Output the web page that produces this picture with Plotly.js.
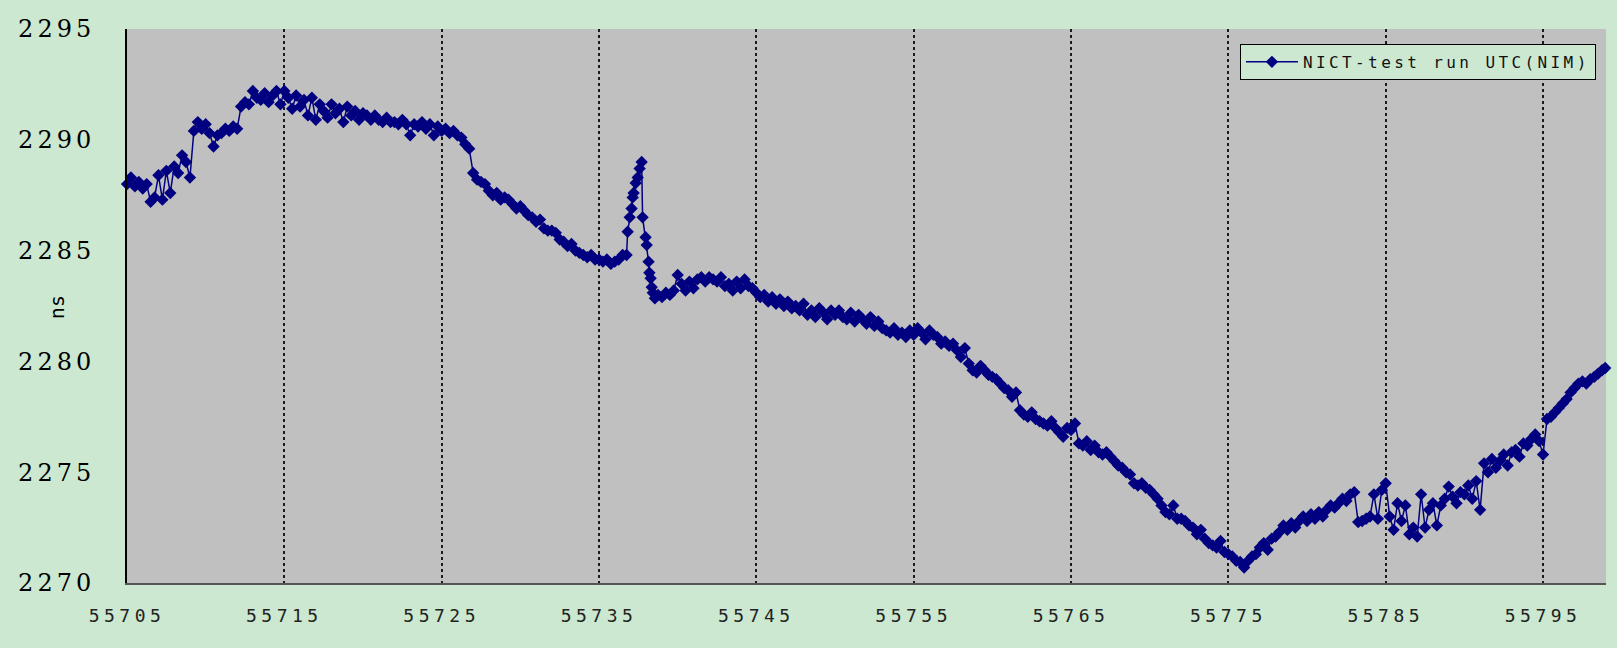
<!DOCTYPE html>
<html>
<head>
<meta charset="utf-8">
<script src="https://cdn.plot.ly/plotly-3.0.1.min.js"></script>
<style>
  html, body { margin: 0; padding: 0; background: #CCE8D0; }
  #chart { width: 1617px; height: 648px; }
  .xtick text { letter-spacing: 4.5px; }
  .ytick text { letter-spacing: 4px; }
  .legendtext { letter-spacing: 3.4px; }
</style>
</head>
<body>
<div id="chart"></div>
<script>
// ---- data ----
const seriesName = "NICT-test run UTC(NIM)";
const xTicks = [55705, 55715, 55725, 55735, 55745, 55755, 55765, 55775, 55785, 55795];
const yTicks = [2270, 2275, 2280, 2285, 2290, 2295];
const yGrid = [2275, 2280, 2285, 2290];

const mjd = [
55705,55705.25,55705.5,55705.75,
55706,55706.25,55706.5,55706.75,
55707,55707.25,55707.5,55707.75,
55708,55708.25,55708.5,55708.75,
55709,55709.25,55709.5,55709.75,
55710,55710.25,55710.5,55710.75,
55711,55711.25,55711.5,55711.75,
55712,55712.25,55712.5,55712.75,
55713,55713.25,55713.5,55713.75,
55714,55714.25,55714.5,55714.75,
55715,55715.25,55715.5,55715.75,
55716,55716.25,55716.5,55716.75,
55717,55717.25,55717.5,55717.75,
55718,55718.25,55718.5,55718.75,
55719,55719.25,55719.5,55719.75,
55720,55720.25,55720.5,55720.75,
55721,55721.25,55721.5,55721.75,
55722,55722.25,55722.5,55722.75,
55723,55723.25,55723.5,55723.75,
55724,55724.25,55724.5,55724.75,
55725,55725.25,55725.5,55725.75,
55726,55726.25,55726.5,55726.75,
55727,55727.25,55727.5,55727.75,
55728,55728.25,55728.5,55728.75,
55729,55729.25,55729.5,55729.75,
55730,55730.25,55730.5,55730.75,
55731,55731.25,55731.5,55731.75,
55732,55732.25,55732.5,55732.75,
55733,55733.25,55733.5,55733.75,
55734,55734.25,55734.5,55734.75,
55735,55735.25,55735.5,55735.75,
55736,55736.25,55736.5,
55736.75,55736.82,55736.95,55737.07,55737.14,55737.2,55737.33,55737.46,55737.58,55737.71,
55737.77,55737.96,55738.03,55738.15,55738.2,55738.28,55738.35,55738.42,55738.55,55738.75,
55739,55739.25,55739.5,55739.75,
55740,55740.25,55740.5,55740.75,
55741,55741.25,55741.5,55741.75,
55742,55742.25,55742.5,55742.75,
55743,55743.25,55743.5,55743.75,
55744,55744.25,55744.5,55744.75,
55745,55745.25,55745.5,55745.75,
55746,55746.25,55746.5,55746.75,
55747,55747.25,55747.5,55747.75,
55748,55748.25,55748.5,55748.75,
55749,55749.25,55749.5,55749.75,
55750,55750.25,55750.5,55750.75,
55751,55751.25,55751.5,55751.75,
55752,55752.25,55752.5,55752.75,
55753,55753.25,55753.5,55753.75,
55754,55754.25,55754.5,55754.75,
55755,55755.25,55755.5,55755.75,
55756,55756.25,55756.5,55756.75,
55757,55757.25,55757.5,55757.75,
55758,55758.25,55758.5,55758.75,
55759,55759.25,55759.5,55759.75,
55760,55760.25,55760.5,55760.75,
55761,55761.25,55761.5,55761.75,
55762,55762.25,55762.5,55762.75,
55763,55763.25,55763.5,55763.75,
55764,55764.25,55764.5,55764.75,
55765,55765.25,55765.5,55765.75,
55766,55766.25,55766.5,55766.75,
55767,55767.25,55767.5,55767.75,
55768,55768.25,55768.5,55768.75,
55769,55769.25,55769.5,55769.75,
55770,55770.25,55770.5,55770.75,
55771,55771.25,55771.5,55771.75,
55772,55772.25,55772.5,55772.75,
55773,55773.25,55773.5,55773.75,
55774,55774.25,55774.5,55774.75,
55775,55775.25,55775.5,55775.75,
55776,55776.25,55776.5,55776.75,
55777,55777.25,55777.5,55777.75,
55778,55778.25,55778.5,55778.75,
55779,55779.25,55779.5,55779.75,
55780,55780.25,55780.5,55780.75,
55781,55781.25,55781.5,55781.75,
55782,55782.25,55782.5,55782.75,
55783,55783.25,55783.5,55783.75,
55784,55784.25,55784.5,55784.75,
55785,55785.25,55785.5,55785.75,
55786,55786.25,55786.5,55786.75,
55787,55787.25,55787.5,55787.75,
55788,55788.25,55788.5,55788.75,
55789,55789.25,55789.5,55789.75,
55790,55790.25,55790.5,55790.75,
55791,55791.25,55791.5,55791.75,
55792,55792.25,55792.5,55792.75,
55793,55793.25,55793.5,55793.75,
55794,55794.25,55794.5,55794.75,
55795,55795.25,55795.5,55795.75,
55796,55796.25,55796.5,55796.75,
55797,55797.25,55797.5,55797.75,
55798,55798.25,55798.5,55798.75,
55798.95
];

const ns = [
2288.0,2288.3,2287.9,2288.1,
2287.8,2288.0,2287.2,2287.4,
2288.4,2287.3,2288.6,2287.6,
2288.8,2288.5,2289.3,2289.0,
2288.3,2290.4,2290.8,2290.5,
2290.7,2290.3,2289.7,2290.2,
2290.3,2290.5,2290.4,2290.6,
2290.5,2291.5,2291.7,2291.6,
2292.2,2291.9,2291.8,2292.1,
2291.7,2292.0,2292.2,2291.6,
2292.2,2291.9,2291.4,2292.0,
2291.5,2291.8,2291.1,2291.9,
2290.9,2291.6,2291.3,2291.0,
2291.6,2291.2,2291.4,2290.8,
2291.5,2291.1,2291.3,2290.9,
2291.2,2291.1,2290.9,2291.1,
2290.9,2290.8,2291.0,2290.8,
2290.8,2290.7,2290.9,2290.7,
2290.2,2290.7,2290.6,2290.8,
2290.5,2290.7,2290.2,2290.6,
2290.4,2290.5,2290.3,2290.4,
2290.2,2290.1,2289.8,2289.6,
2288.5,2288.2,2288.1,2288.0,
2287.7,2287.5,2287.6,2287.3,
2287.4,2287.3,2287.1,2286.9,
2287.0,2286.8,2286.6,2286.5,
2286.3,2286.4,2286.0,2285.9,
2285.9,2285.8,2285.5,2285.4,
2285.2,2285.3,2285.0,2284.9,
2284.8,2284.7,2284.8,2284.6,
2284.6,2284.5,2284.6,2284.4,
2284.5,2284.6,2284.8,
2284.8,2285.85,2286.5,2286.9,2287.4,2287.6,2288.05,2288.3,2288.7,2289.0,
2286.5,2285.6,2285.25,2284.5,2284.0,2283.75,2283.35,2283.1,2282.85,2283.0,
2282.9,2283.1,2283.0,2283.2,
2283.9,2283.5,2283.2,2283.6,
2283.3,2283.7,2283.8,2283.6,
2283.8,2283.7,2283.6,2283.8,
2283.4,2283.5,2283.2,2283.6,
2283.3,2283.7,2283.4,2283.3,
2283.1,2282.9,2283.0,2282.7,
2282.9,2282.6,2282.8,2282.5,
2282.7,2282.4,2282.5,2282.3,
2282.6,2282.1,2282.3,2282.0,
2282.4,2282.2,2281.9,2282.3,
2282.1,2282.3,2282.0,2281.9,
2282.2,2281.8,2282.1,2281.9,
2281.7,2282.0,2281.6,2281.8,
2281.5,2281.4,2281.3,2281.5,
2281.2,2281.3,2281.1,2281.4,
2281.2,2281.5,2281.3,2281.0,
2281.4,2281.2,2281.1,2280.8,
2280.9,2280.7,2280.8,2280.5,
2280.2,2280.6,2279.9,2279.6,
2279.5,2279.8,2279.6,2279.4,
2279.3,2279.2,2279.0,2278.8,
2278.7,2278.4,2278.6,2277.8,
2277.6,2277.5,2277.7,2277.4,
2277.3,2277.2,2277.1,2277.3,
2277.0,2276.8,2276.6,2277.0,
2276.9,2277.2,2276.3,2276.2,
2276.4,2276.0,2276.2,2275.9,
2275.8,2275.9,2275.7,2275.5,
2275.3,2275.2,2275.0,2274.9,
2274.5,2274.4,2274.5,2274.3,
2274.2,2274.0,2273.8,2273.5,
2273.2,2273.1,2273.5,2272.9,
2272.9,2272.8,2272.6,2272.5,
2272.2,2272.4,2272.0,2271.8,
2271.7,2271.6,2271.9,2271.4,
2271.3,2271.2,2271.0,2270.95,
2270.7,2271.0,2271.2,2271.3,
2271.6,2271.8,2271.5,2272.0,
2272.1,2272.3,2272.6,2272.4,
2272.7,2272.5,2272.8,2273.0,
2272.8,2273.1,2272.9,2273.2,
2273.0,2273.3,2273.5,2273.4,
2273.6,2273.8,2273.7,2274.0,
2274.1,2272.75,2272.8,2272.9,
2273.0,2274.0,2272.9,2274.2,
2274.5,2273.0,2272.4,2273.6,
2272.8,2273.5,2272.2,2272.5,
2272.1,2274.0,2272.5,2273.3,
2273.6,2272.6,2273.5,2273.8,
2274.35,2273.9,2273.6,2274.1,
2274.0,2274.4,2273.8,2274.6,
2273.3,2275.4,2275.0,2275.6,
2275.2,2275.5,2275.8,2275.3,
2275.9,2276.0,2275.7,2276.3,
2276.2,2276.5,2276.7,2276.4,
2275.8,2277.4,2277.5,2277.7,
2277.9,2278.1,2278.3,2278.6,
2278.8,2279.0,2279.1,2279.0,
2279.2,2279.3,2279.45,2279.6,
2279.7
];

const trace = {
  x: mjd,
  y: ns,
  type: 'scatter',
  mode: 'lines+markers',
  name: seriesName,
  cliponaxis: false,
  line: { color: '#000080', width: 1.5 },
  marker: { symbol: 'diamond', size: 9.5, color: '#000080' }
};

const layout = {
  width: 1617,
  height: 648,
  margin: { l: 127, r: 11, t: 29, b: 65 },
  paper_bgcolor: '#CCE8D0',
  plot_bgcolor: '#C0C0C0',
  showlegend: true,
  legend: {
    x: 0.9932, y: 0.973, xanchor: 'right', yanchor: 'top',
    bgcolor: '#CCE8D0', bordercolor: '#000000', borderwidth: 1,
    itemwidth: 52,
    font: { family: 'DejaVu Sans Mono', size: 16, color: '#111111' }
  },
  xaxis: {
    range: [55705, 55799],
    tickvals: xTicks,
    ticktext: xTicks.map(String),
    showgrid: true, gridcolor: '#1a1a1a', gridwidth: 2, griddash: 'dot',
    showline: true, linecolor: '#555555', linewidth: 2,
    ticks: '', zeroline: false,
    tickfont: { family: 'DejaVu Sans Mono', size: 18, color: '#222222' },
    ticklabelstandoff: 15
  },
  yaxis: {
    range: [2270, 2295],
    tickvals: yTicks,
    ticktext: yTicks.map(String),
    showgrid: false,
    showline: true, linecolor: '#000000', linewidth: 2,
    ticks: '', zeroline: false,
    tickfont: { family: 'DejaVu Serif', size: 24, color: '#000000' },
    ticklabelstandoff: 25
  },
  yaxis2: {
    overlaying: 'y', side: 'right',
    range: [2270, 2295],
    tickvals: yGrid,
    showticklabels: false,
    showgrid: true, gridcolor: '#3c3c3c', gridwidth: 1.3,
    showline: true, linecolor: '#8c8c8c', linewidth: 1,
    ticks: '', zeroline: false
  },
  annotations: [{
    text: 'ns', xref: 'paper', yref: 'paper',
    x: -0.0473, y: 0.498, xanchor: 'center', yanchor: 'middle',
    showarrow: false, textangle: -90,
    font: { family: 'DejaVu Sans Mono', size: 20, color: '#000000' }
  }]
};

Plotly.newPlot('chart', [trace], layout, { displayModeBar: false, staticPlot: true });
</script>
</body>
</html>
